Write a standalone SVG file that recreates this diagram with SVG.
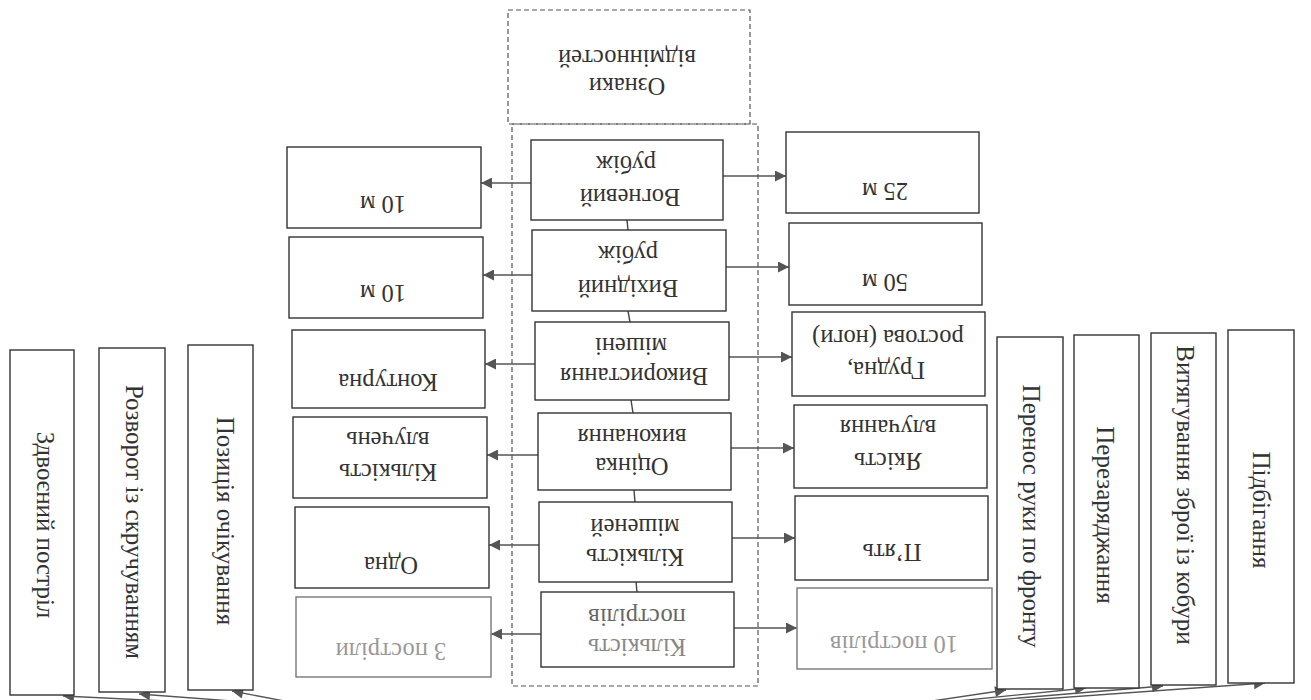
<svg xmlns="http://www.w3.org/2000/svg" width="1311" height="700" viewBox="0 0 1311 700">
<defs>
<marker id="ah" viewBox="0 0 10 10" refX="10" refY="5" markerWidth="15" markerHeight="11" orient="auto" markerUnits="userSpaceOnUse"><path d="M0,0 L10,5 L0,10 z" fill="#555"/></marker>
</defs>
<style>
.b{fill:#fff;stroke:#333;stroke-width:1.4}
.d{fill:none;stroke:#555;stroke-width:1.2;stroke-dasharray:5 3}
.t{font-family:"Liberation Serif","Times New Roman",serif;font-size:24.5px;fill:#333;text-anchor:middle;dominant-baseline:central}
.v{font-family:"Liberation Serif","Times New Roman",serif;font-size:25px;fill:#333;text-anchor:middle;dominant-baseline:central}
.f{fill:#999}
.c{stroke:#444;stroke-width:1.4;fill:none}
.a{stroke:#555;stroke-width:1.4;fill:none;marker-end:url(#ah)}
</style>
<rect width="1311" height="700" fill="#fff"/>

<g id="frame">
<rect class="d" x="508" y="10" width="242" height="114"/>
<rect class="d" x="512" y="124" width="246" height="562"/>
</g>

<g id="n-oznaky">
<text class="t" x="627" y="86" transform="rotate(180 627 86)">Ознаки</text>
<text class="t" x="627" y="58" transform="rotate(180 627 58)">відмінностей</text>
</g>

<g id="connectors">
<line class="c" x1="627" y1="220" x2="628" y2="230"/>
<line class="c" x1="628" y1="311" x2="630" y2="322"/>
<line class="c" x1="631" y1="400" x2="633" y2="413"/>
<line class="c" x1="634" y1="490" x2="635" y2="502"/>
<line class="c" x1="636" y1="582" x2="637" y2="592"/>
<line class="a" x1="531" y1="183" x2="481" y2="183"/>
<line class="a" x1="532" y1="275" x2="483" y2="275"/>
<line class="a" x1="535" y1="364" x2="485" y2="364"/>
<line class="a" x1="538" y1="455" x2="487" y2="455"/>
<line class="a" x1="539" y1="545" x2="489" y2="545"/>
<line class="a" x1="541" y1="634" x2="491" y2="634"/>
<line class="a" x1="723" y1="176" x2="786" y2="176"/>
<line class="a" x1="726" y1="267" x2="789" y2="267"/>
<line class="a" x1="729" y1="357" x2="792" y2="357"/>
<line class="a" x1="731" y1="448" x2="794" y2="448"/>
<line class="a" x1="732" y1="538" x2="795" y2="538"/>
<line class="a" x1="734" y1="628" x2="797" y2="628"/>
<line class="a" x1="300" y1="704" x2="232" y2="691"/>
<line class="a" x1="285" y1="705" x2="139" y2="694"/>
<line class="a" x1="270" y1="706" x2="63" y2="696"/>
<line class="a" x1="912" y1="704" x2="1006" y2="690"/>
<line class="a" x1="918" y1="705" x2="1086" y2="688"/>
<line class="a" x1="924" y1="706" x2="1163" y2="686"/>
<line class="a" x1="930" y1="707" x2="1265" y2="683"/>
</g>

<g id="n-vohnevyi">
<rect class="b" x="531" y="140" width="192" height="80"/>
<text class="t" x="630" y="197" transform="rotate(180 630 197)">Вогневий</text>
<text class="t" x="626" y="164" transform="rotate(180 626 164)">рубіж</text>
</g>
<g id="n-vykhidnyi">
<rect class="b" x="532" y="230" width="194" height="81"/>
<text class="t" x="628" y="288" transform="rotate(180 628 288)">Вихідний</text>
<text class="t" x="628" y="254" transform="rotate(180 628 254)">рубіж</text>
</g>
<g id="n-vykorystannia">
<rect class="b" x="535" y="322" width="194" height="78"/>
<text class="t" x="634" y="376" transform="rotate(180 634 376)">Використання</text>
<text class="t" x="631" y="346" transform="rotate(180 631 346)">мішені</text>
</g>
<g id="n-otsinka">
<rect class="b" x="538" y="413" width="193" height="77"/>
<text class="t" x="632" y="466" transform="rotate(180 632 466)">Оцінка</text>
<text class="t" x="632" y="437" transform="rotate(180 632 437)">виконання</text>
</g>
<g id="n-kilkist-mishenei">
<rect class="b" x="539" y="502" width="193" height="80"/>
<text class="t" x="635" y="557" transform="rotate(180 635 557)">Кількість</text>
<text class="t" x="635" y="527" transform="rotate(180 635 527)">мішеней</text>
</g>
<g id="n-kilkist-postriliv">
<rect class="b" x="541" y="592" width="193" height="75"/>
<text class="t" x="637" y="617" transform="rotate(180 637 617)" style="fill:#666">пострілів</text>
<text class="t" x="637" y="647" transform="rotate(180 637 647)" style="fill:#888">Кількість</text>
</g>

<g id="n-l1">
<rect class="b" x="287" y="147" width="194" height="81"/>
<text class="t" x="383" y="204" transform="rotate(180 383 204)">10 м</text>
</g>
<g id="n-l2">
<rect class="b" x="289" y="237" width="194" height="81"/>
<text class="t" x="383" y="293" transform="rotate(180 383 293)">10 м</text>
</g>
<g id="n-l3">
<rect class="b" x="292" y="330" width="193" height="78"/>
<text class="t" x="388" y="382" transform="rotate(180 388 382)">Контурна</text>
</g>
<g id="n-l4">
<rect class="b" x="293" y="417" width="194" height="81"/>
<text class="t" x="388" y="472" transform="rotate(180 388 472)">Кількість</text>
<text class="t" x="388" y="440" transform="rotate(180 388 440)">влучень</text>
</g>
<g id="n-l5">
<rect class="b" x="295" y="507" width="194" height="81"/>
<text class="t" x="391" y="565" transform="rotate(180 391 565)">Одна</text>
</g>
<g id="n-l6">
<rect class="b" x="296" y="597" width="195" height="80" style="stroke:#777"/>
<text class="t f" x="391" y="651" transform="rotate(180 391 651)">3 постріли</text>
</g>

<g id="n-r1">
<rect class="b" x="786" y="132" width="193" height="81"/>
<text class="t" x="885" y="191" transform="rotate(180 885 191)">25 м</text>
</g>
<g id="n-r2">
<rect class="b" x="789" y="223" width="193" height="82"/>
<text class="t" x="885" y="282" transform="rotate(180 885 282)">50 м</text>
</g>
<g id="n-r3">
<rect class="b" x="792" y="312" width="193" height="84"/>
<text class="t" x="886" y="370" transform="rotate(180 886 370)">Грудна,</text>
<text class="t" x="888" y="338" transform="rotate(180 888 338)">ростова (ноги)</text>
</g>
<g id="n-r4">
<rect class="b" x="794" y="405" width="193" height="83"/>
<text class="t" x="888" y="461" transform="rotate(180 888 461)">Якість</text>
<text class="t" x="888" y="428" transform="rotate(180 888 428)">влучання</text>
</g>
<g id="n-r5">
<rect class="b" x="795" y="496" width="193" height="84"/>
<text class="t" x="892" y="552" transform="rotate(180 892 552)">П’ять</text>
</g>
<g id="n-r6">
<rect class="b" x="797" y="588" width="195" height="81" style="stroke:#777"/>
<text class="t f" x="894" y="644" transform="rotate(180 894 644)">10 пострілів</text>
</g>

<g id="n-zdvoienyi">
<rect class="b" x="10" y="350" width="64" height="345"/>
<text class="v" x="45" y="525" transform="rotate(90 45 525)">Здвоєний постріл</text>
</g>
<g id="n-rozvorot">
<rect class="b" x="99" y="348" width="66" height="344"/>
<text class="v" x="134" y="522" transform="rotate(90 134 522)">Розворот із скручуванням</text>
</g>
<g id="n-pozytsiia">
<rect class="b" x="188" y="345" width="65" height="345"/>
<text class="v" x="225" y="521" transform="rotate(90 225 521)">Позиція очікування</text>
</g>
<g id="n-perenos">
<rect class="b" x="997" y="337" width="66" height="352"/>
<text class="v" x="1031" y="516" transform="rotate(90 1031 516)">Перенос руки по фронту</text>
</g>
<g id="n-perezariadzhannia">
<rect class="b" x="1074" y="335" width="65" height="353"/>
<text class="v" x="1105" y="515" transform="rotate(90 1105 515)">Перезаряджання</text>
</g>
<g id="n-vytiahuvannia">
<rect class="b" x="1151" y="333" width="65" height="352"/>
<text class="v" x="1185" y="495" transform="rotate(90 1185 495)">Витягування зброї із кобури</text>
</g>
<g id="n-pidbihannia">
<rect class="b" x="1228" y="330" width="66" height="353"/>
<text class="v" x="1261" y="510" transform="rotate(90 1261 510)">Підбігання</text>
</g>
</svg>
